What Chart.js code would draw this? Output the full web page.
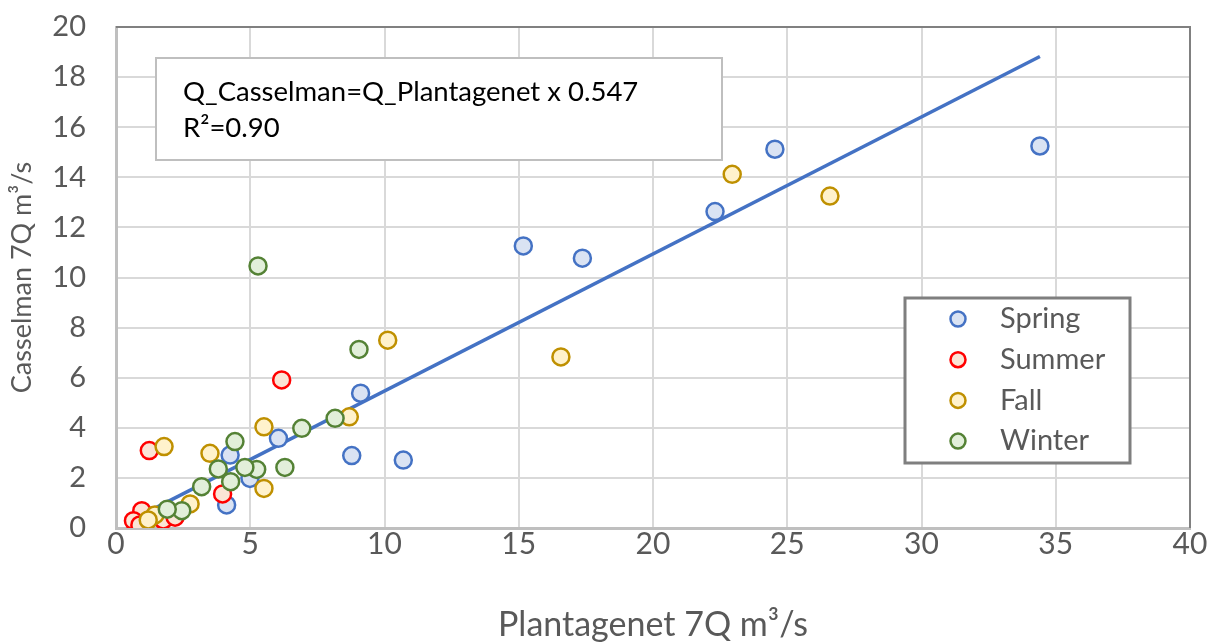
<!DOCTYPE html>
<html>
<head>
<meta charset="utf-8">
<title>Casselman vs Plantagenet 7Q</title>
<script src="https://cdn.jsdelivr.net/npm/chart.js@4.4.1/dist/chart.umd.min.js"></script>
<style>
    html, body { margin: 0; padding: 0; background: #ffffff; }
    #wrap { width: 1221px; height: 643px; position: relative; }
</style>
</head>
<body>
<div id="wrap"><canvas id="chart" width="1221" height="643"></canvas></div>
<script>
// Data (Plantagenet 7Q, Casselman 7Q in m3/s)
const springX = [34.41, 24.54, 22.31, 17.37, 15.17, 10.70, 8.78, 9.11, 6.05, 4.25, 4.99, 4.12];
const springY = [15.25, 15.12, 12.63, 10.77, 11.26, 2.71, 2.89, 5.38, 3.58, 2.91, 1.98, 0.92];

const summerX = [6.17, 1.24, 3.97, 0.96, 0.65, 0.89, 1.76, 2.20];
const summerY = [5.91, 3.09, 1.36, 0.69, 0.29, 0.12, 0.32, 0.43];

const fallX = [1.79, 3.50, 5.51, 8.69, 10.12, 16.57, 22.95, 26.59, 5.51, 2.76, 1.45, 1.20];
const fallY = [3.25, 2.98, 4.04, 4.44, 7.50, 6.83, 14.12, 13.25, 1.58, 0.96, 0.52, 0.32];

const winterX = [5.29, 9.05, 8.16, 6.92, 6.29, 5.24, 4.80, 4.43, 3.81, 4.27, 3.19, 2.45, 1.91];
const winterY = [10.46, 7.13, 4.38, 3.98, 2.42, 2.34, 2.42, 3.45, 2.36, 1.85, 1.65, 0.69, 0.75];

const trendSlope = 0.547;
const rSquared = '0.90';

const xTicks = [0, 5, 10, 15, 20, 25, 30, 35, 40];
const yTicks = [0, 2, 4, 6, 8, 10, 12, 14, 16, 18, 20];

const seasons = ['Spring', 'Summer', 'Fall', 'Winter'];
const seasonBorder = ['#4472C4', '#FF0000', '#BF9000', '#548235'];
const seasonFill = ['#DAE3F3', '#FBE5D6', '#FFF2CC', '#E2EFDA'];

const FONT = 'Lato, "Open Sans", sans-serif';
const TEXT_GREY = '#595959';

function toPoints(xs, ys) {
    return xs.map((x, i) => ({ x: x, y: ys[i] }));
}

// Trendline through the origin, spanning the data range
const allX = [].concat(springX, summerX, fallX, winterX);
const trendMin = Math.min.apply(null, allX);
const trendMax = Math.max.apply(null, allX);
const trendPoints = [
    { x: trendMin, y: trendMin * trendSlope },
    { x: trendMax, y: trendMax * trendSlope }
];

const seasonData = [
    toPoints(springX, springY),
    toPoints(summerX, summerY),
    toPoints(fallX, fallY),
    toPoints(winterX, winterY)
];

const datasets = seasons.map((name, i) => ({
    label: name,
    data: seasonData[i],
    pointRadius: 8.5,
    pointBorderWidth: 2.5,
    pointBackgroundColor: seasonFill[i],
    pointBorderColor: seasonBorder[i],
    backgroundColor: seasonFill[i],
    borderColor: seasonBorder[i],
    showLine: false,
    order: 4 - i
}));

datasets.push({
    label: 'Trend',
    type: 'line',
    data: trendPoints,
    borderColor: '#4472C4',
    borderWidth: 3.5,
    pointRadius: 0,
    fill: false,
    order: 10
});

/**
 * Plot frame, equation box and legend box drawn on the canvas
 */
const overlayPlugin = {
    id: 'overlay',
    beforeDatasetsDraw(chart) {
        const { ctx, chartArea } = chart;
        ctx.save();
        ctx.strokeStyle = '#808080';
        ctx.lineWidth = 2;
        ctx.beginPath();
        ctx.moveTo(chartArea.left, chartArea.top);
        ctx.lineTo(chartArea.right, chartArea.top);
        ctx.lineTo(chartArea.right, chartArea.bottom);
        ctx.stroke();
        ctx.restore();
    },
    afterDatasetsDraw(chart) {
        const { ctx } = chart;
        ctx.save();

        // Equation box
        ctx.fillStyle = '#ffffff';
        ctx.fillRect(156, 58, 566, 102);
        ctx.strokeStyle = '#BFBFBF';
        ctx.lineWidth = 2;
        ctx.strokeRect(156, 58, 566, 102);
        ctx.fillStyle = '#000000';
        ctx.font = '27.5px ' + FONT;
        ctx.textBaseline = 'middle';
        ctx.textAlign = 'left';
        ctx.fillText('Q_Casselman=Q_Plantagenet x ' + trendSlope, 183, 92);
        ctx.fillText('R\u00B2=' + rSquared, 183, 128);

        // Legend box
        ctx.fillStyle = '#ffffff';
        ctx.fillRect(905, 298, 225, 165);
        ctx.strokeStyle = '#7F7F7F';
        ctx.lineWidth = 3;
        ctx.strokeRect(905, 298, 225, 165);
        ctx.font = '29px ' + FONT;
        seasons.forEach((name, i) => {
            const y = 319 + i * 40.7;
            ctx.beginPath();
            ctx.arc(958, y, 7.5, 0, Math.PI * 2);
            ctx.fillStyle = seasonFill[i];
            ctx.fill();
            ctx.lineWidth = 2.5;
            ctx.strokeStyle = seasonBorder[i];
            ctx.stroke();
            ctx.fillStyle = TEXT_GREY;
            ctx.fillText(name, 1000, y);
        });
        ctx.restore();
    }
};

new Chart(document.getElementById('chart'), {
    type: 'scatter',
    data: { datasets: datasets },
    options: {
        responsive: false,
        animation: false,
        layout: { padding: { top: 27, right: 31, bottom: 0, left: 0 } },
        plugins: {
            legend: { display: false },
            tooltip: { enabled: false }
        },
        scales: {
            x: {
                type: 'linear',
                min: 0,
                max: 40,
                afterBuildTicks(axis) {
                    axis.ticks = xTicks.map(v => ({ value: v }));
                },
                afterFit(axis) {
                    axis.height = 115;
                    axis.paddingLeft = 0;
                    axis.paddingRight = 0;
                },
                ticks: {
                    color: TEXT_GREY,
                    font: { family: FONT, size: 30 },
                    padding: -2
                },
                grid: { color: '#D9D9D9', lineWidth: 2, drawTicks: false },
                border: { display: true, color: '#BFBFBF', width: 3 },
                title: {
                    display: true,
                    text: 'Plantagenet 7Q m\u00B3/s',
                    color: TEXT_GREY,
                    font: { family: FONT, size: 34 },
                    padding: { top: 0, bottom: -2 }
                }
            },
            y: {
                type: 'linear',
                min: 0,
                max: 20,
                afterBuildTicks(axis) {
                    axis.ticks = yTicks.map(v => ({ value: v }));
                },
                afterFit(axis) {
                    axis.width = 116;
                    axis.paddingTop = 0;
                    axis.paddingBottom = 0;
                },
                ticks: {
                    color: TEXT_GREY,
                    font: { family: FONT, size: 29 },
                    padding: 30
                },
                grid: { color: '#D9D9D9', lineWidth: 2, drawTicks: false },
                border: { display: true, color: '#BFBFBF', width: 3 },
                title: {
                    display: true,
                    text: 'Casselman 7Q m\u00B3/s',
                    color: TEXT_GREY,
                    font: { family: FONT, size: 27 },
                    padding: { top: 6, bottom: 0 }
                }
            }
        }
    },
    plugins: [overlayPlugin]
});
</script>
</body>
</html>
